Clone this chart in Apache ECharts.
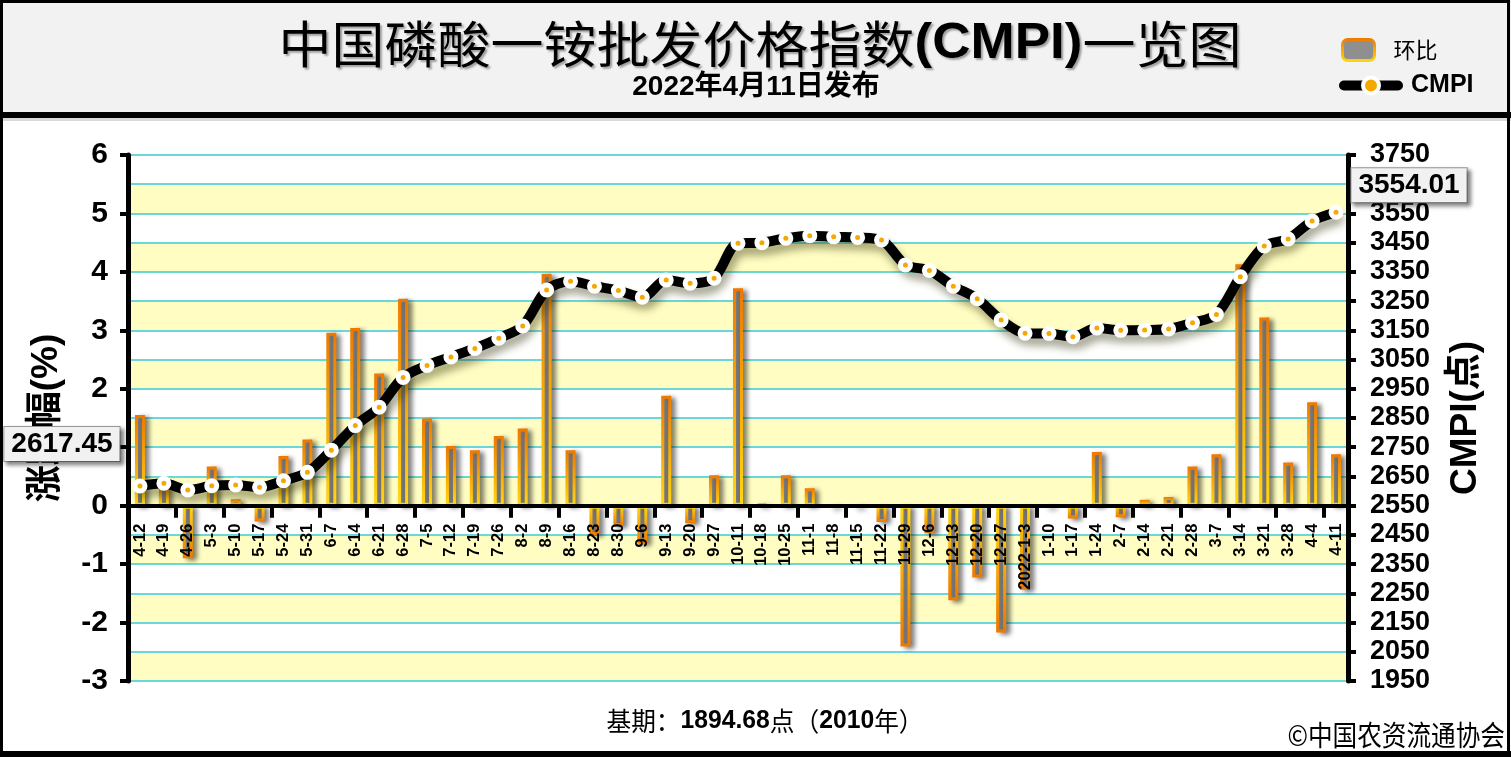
<!DOCTYPE html>
<html>
<head>
<meta charset="utf-8">
<script src="https://cdn.jsdelivr.net/npm/echarts@6.0.0/dist/echarts.min.js"></script>
<style>
html,body{margin:0;padding:0;background:#fff;}
#chart{width:1511px;height:757px;}
</style>
</head>
<body>
<div id="chart"></div>
<script>
// ---------------- data ----------------
const categories = ['4-12','4-19','4-26','5-3','5-10','5-17','5-24','5-31','6-7','6-14','6-21','6-28',
  '7-5','7-12','7-19','7-26','8-2','8-9','8-16','8-23','8-30','9-6','9-13','9-20','9-27',
  '10-11','10-18','10-25','11-1','11-8','11-15','11-22','11-29','12-6','12-13','12-20','12-27',
  '2022-1-3','1-10','1-17','1-24','2-7','2-14','2-21','2-28','3-7','3-14','3-21','3-28','4-4','4-11'];

// 环比 (%)
const changePct = [1.55,0.35,-0.9,0.67,0.11,-0.27,0.85,1.13,2.96,3.04,2.26,3.54,
  1.49,1.02,0.95,1.19,1.32,3.97,0.95,-0.5,-0.35,-0.65,1.88,-0.3,0.52,
  3.72,0.02,0.52,0.3,-0.03,-0.03,-0.28,-2.41,-0.47,-1.62,-1.23,-2.17,
  -1.44,-0.03,-0.22,0.92,-0.2,0.1,0.15,0.67,0.88,4.13,3.22,0.74,1.77,0.88];

// CMPI (点)
const cmpiValues = [2617.45,2626.5,2603.6,2618,2621,2613,2635.5,2664,2740,2824,2887,2989,
  3030,3059,3088,3123,3165,3288,3318,3301,3286,3263,3322,3311,3328,
  3448,3450,3465,3474,3470,3468,3459,3374,3355,3301,3258,3185,
  3140,3139,3128,3158,3150,3151,3154.5,3176,3204,3333.5,3438.6,3462.5,3524,3554.01];

const leftTicks = {min:-3, max:6, interval:1};
const rightTicks = {min:1950, max:3750, interval:100};

const titleText = '中国磷酸一铵批发价格指数(CMPI)一览图';
const subTitleText = '2022年4月11日发布';
const baseText = ['基期：','1894.68','点（','2010','年）'];
const copyrightText = '©中国农资流通协会';

// ---------------- layout / styles ----------------
const W = 1511, H = 757;
const GRID = {left:128, right:163, top:155, bottom:76};
const gridH = H - GRID.top - GRID.bottom;
// place the category axis at the zero line of the left value axis
const zeroOffset = -gridH * (0 - leftTicks.min) / (leftTicks.max - leftTicks.min);

const LAT = "'Liberation Sans', Arial, 'Noto Sans CJK SC', sans-serif";
const CJK = "'Noto Sans CJK SC', 'Liberation Sans', sans-serif";

const grad = (c0, c1) => ({type:'linear', x:0, y:0, x2:0, y2:1,
  colorStops:[{offset:0,color:c0},{offset:1,color:c1}]});
const ORANGE = '#EE7800', GOLD = '#FFD712';
const posBorder = grad(ORANGE, GOLD);
const negBorder = grad(GOLD, ORANGE);

const barData = changePct.map(v => ({value:v, itemStyle:{borderColor: v < 0 ? negBorder : posBorder}}));

const boxLabel = (dx, dy) => ({
  show:true, position:'inside', offset:[dx,dy],
  formatter: p => Number(p.value).toFixed(2),
  fontFamily: LAT, fontWeight:'bold', fontSize:28, color:'#000',
  backgroundColor:'#F1F1F1', borderColor:'#9A9A9A', borderWidth:1,
  padding:[4,7,2,7],
  shadowColor:'rgba(0,0,0,0.45)', shadowBlur:4, shadowOffsetX:3, shadowOffsetY:3
});
const lastIdx = cmpiValues.length - 1;
const lineData = cmpiValues.map((v,i) => {
  if (i === 0) return {value:v, label: boxLabel(-78, -42)};
  if (i === lastIdx) return {value:v, label: boxLabel(73, -27)};
  return v;
});

const chart = echarts.init(document.getElementById('chart'), null, {renderer:'canvas'});
chart.setOption({
  animation:false,
  backgroundColor:'#ffffff',
  grid:{left:GRID.left, right:GRID.right, top:GRID.top, bottom:GRID.bottom, outerBoundsMode:'none', containLabel:false},
  legend:[
    {data:['环比'], left:1336, top:33, itemWidth:32, itemHeight:21, selectedMode:false,
     itemStyle:{borderWidth:3},
     textStyle:{fontSize:22, color:'#000', fontFamily:CJK, padding:[0,0,0,14]}},
    {data:['CMPI'], left:1334, top:68, itemWidth:54, itemHeight:20, selectedMode:false,
     lineStyle:{width:10, cap:'round'}, itemStyle:{borderWidth:4},
     textStyle:{fontSize:25, color:'#000', fontWeight:'bold', fontFamily:LAT, padding:[0,0,0,8]}}
  ],
  xAxis:{
    type:'category', data:categories, boundaryGap:true, z:3,
    position:'bottom', offset:zeroOffset,
    axisLine:{onZero:false, lineStyle:{color:'#000', width:4}},
    axisTick:{show:true, interval:1, length:12, lineStyle:{color:'#000', width:4}},
    axisLabel:{interval:0, rotate:90, margin:18, color:'#000', fontWeight:'bold',
      fontSize:16.5, fontFamily:LAT},
    splitLine:{show:false}
  },
  yAxis:[
    {type:'value', position:'left', min:leftTicks.min, max:leftTicks.max, interval:leftTicks.interval,
     name:'涨跌幅(%)', nameLocation:'middle', nameGap:63, nameMoveOverlap:false,
     nameTextStyle:{fontSize:37, fontWeight:'bold', color:'#000', fontFamily:LAT},
     axisLine:{show:true, lineStyle:{color:'#000', width:5}},
     axisTick:{show:true, length:8, lineStyle:{color:'#000', width:4}},
     axisLabel:{margin:20, color:'#000', fontWeight:'bold', fontSize:30, fontFamily:LAT,
       showMinLabel:true, showMaxLabel:true, formatter: v => String(v)},
     splitLine:{show:false}, splitArea:{show:false}},
    {type:'value', position:'right', min:rightTicks.min, max:rightTicks.max, interval:rightTicks.interval,
     name:'CMPI(点)', nameLocation:'middle', nameGap:99, nameMoveOverlap:false,
     nameTextStyle:{fontSize:37, fontWeight:'bold', color:'#000', fontFamily:LAT},
     axisLine:{show:true, lineStyle:{color:'#000', width:5}},
     axisTick:{show:true, length:8, lineStyle:{color:'#000', width:4}},
     axisLabel:{margin:22, color:'#000', fontWeight:'bold', fontSize:27, fontFamily:LAT,
       showMinLabel:true, showMaxLabel:true, hideOverlap:false, formatter: v => String(v)},
     splitLine:{show:true, lineStyle:{color:'#6AD8DA', width:2}},
     splitArea:{show:true, areaStyle:{color:['#FFFDC2','#FFFFFF']}}}
  ],
  series:[
    {name:'环比', type:'bar', yAxisIndex:0, data:barData, barWidth:10, z:2,
     itemStyle:{color:'#8F8F8F', borderColor:posBorder, borderWidth:3,
       shadowColor:'rgba(0,0,0,0.45)', shadowBlur:5, shadowOffsetX:4, shadowOffsetY:2},
     emphasis:{disabled:true}},
    {name:'CMPI', type:'line', yAxisIndex:1, data:lineData, smooth:0.3, z:5, clip:false,
     symbol:'circle', symbolSize:10, showAllSymbol:true,
     lineStyle:{color:'#000', width:10, cap:'round', join:'round',
       shadowColor:'rgba(40,40,0,0.45)', shadowBlur:8, shadowOffsetX:3, shadowOffsetY:7},
     itemStyle:{color:'#F5A800', borderColor:'#ffffff', borderWidth:5},
     emphasis:{disabled:true}}
  ],
  graphic:[
    {type:'rect', silent:true, z:-1, shape:{x:0,y:0,width:W,height:113}, style:{fill:'#F2F2F2'}},
    {type:'rect', silent:true, shape:{x:0,y:112,width:W,height:6}, style:{fill:'#000'}},
    {type:'rect', silent:true, shape:{x:0,y:118,width:W,height:3}, style:{fill:'rgba(0,0,0,0.15)'}},
    {type:'rect', silent:true, shape:{x:1.5,y:1.5,width:W-4,height:H-4}, style:{fill:'none', stroke:'#000', lineWidth:3}},
    {type:'rect', silent:true, shape:{x:0,y:H-6,width:W,height:6}, style:{fill:'#000'}},
    {type:'text', silent:true, x:760, y:44, scaleX:1.06,
     style:{text:titleText.replace('(CMPI)', '{b|(CMPI)}'), align:'center', verticalAlign:'middle',
       fill:'#000', fontSize:50, fontFamily:CJK,
       textShadowColor:'rgba(0,0,0,0.35)', textShadowBlur:2, textShadowOffsetX:2, textShadowOffsetY:2,
       rich:{b:{fontSize:50, fontFamily:LAT, fontWeight:'bold', fill:'#000',
         textShadowColor:'rgba(0,0,0,0.35)', textShadowBlur:2, textShadowOffsetX:2, textShadowOffsetY:2}}}},
    {type:'text', silent:true, x:756, y:87, scaleX:1.0,
     style:{text:subTitleText, align:'center', verticalAlign:'middle', fill:'#000',
       fontSize:28, fontWeight:'bold', fontFamily:LAT}},
    {type:'text', silent:true, x:765, y:721, scaleX:0.95,
     style:{text:baseText[0] + '{b|' + baseText[1] + '}' + baseText[2] + '{b|' + baseText[3] + '}' + baseText[4],
       align:'center', verticalAlign:'middle', fill:'#000', fontSize:26, fontFamily:CJK,
       rich:{b:{fontSize:26, fontWeight:'bold', fontFamily:LAT, fill:'#000'}}}},
    {type:'text', silent:true, x:1505, y:735, scaleX:0.88,
     style:{text:copyrightText, align:'right', verticalAlign:'middle', fill:'#000',
       fontSize:28, fontFamily:CJK}}
  ]
});
</script>
</body>
</html>
